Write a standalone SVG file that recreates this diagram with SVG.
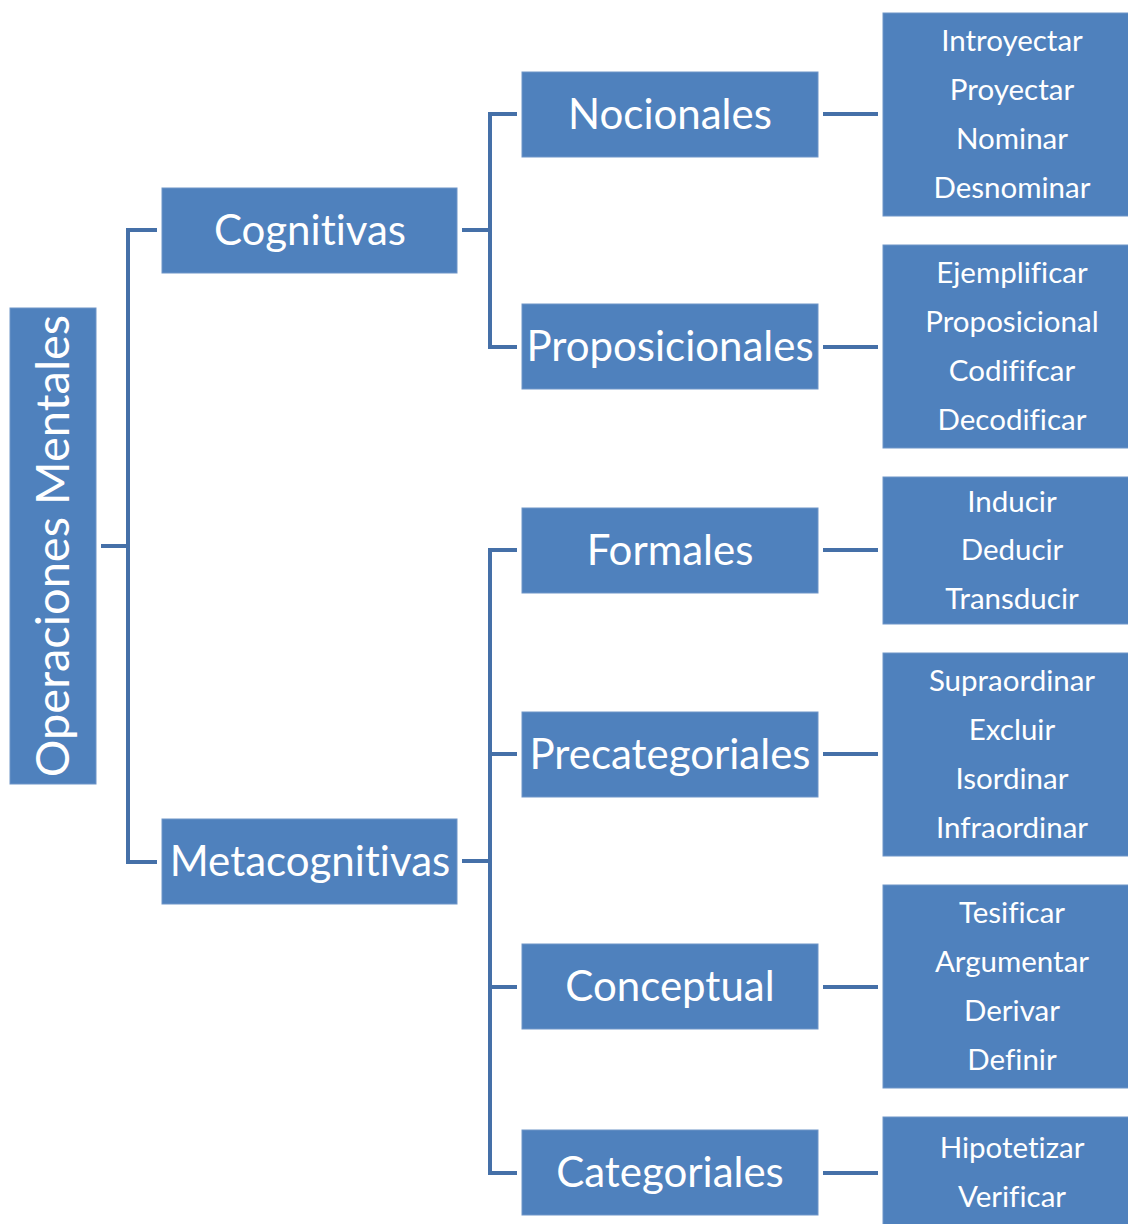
<svg xmlns="http://www.w3.org/2000/svg" width="1128" height="1224" viewBox="0 0 1128 1224">
<style>
.box{fill:#4F81BD;stroke:#6E95C8;stroke-width:1}
.t{font-family:Lato,"Open Sans","Liberation Sans",sans-serif;fill:#FFFFFF;text-anchor:middle;font-variant-ligatures:none}
.big{font-size:42px}
.root{font-size:47px}
.leaf{font-size:29.5px}
.ln{fill:none;stroke:#4570A8;stroke-width:4}
</style>
<rect width="1128" height="1224" fill="#FFFFFF"/>
<g id="connectors">
<path class="ln" d="M101 546H128M157 230H128V862H157"/>
<path class="ln" d="M462 230H490M517 114H490V347H517"/>
<path class="ln" d="M462 861H490M517 550H490V1173H517M490 754H517M490 987H517"/>
<path class="ln" d="M823 114H878M823 347H878M823 550H878M823 754H878M823 987H878M823 1173H878"/>
</g>
<g id="root"><rect class="box" x="10" y="308" width="86" height="476"/><text class="t root" transform="translate(53 546) rotate(-90)" dy="0.35em">Operaciones Mentales</text></g>
<g id="cognitivas"><rect class="box" x="162" y="188" width="295" height="85"/><text class="t big" x="310" y="230" dy="0.35em">Cognitivas</text></g>
<g id="metacognitivas"><rect class="box" x="162" y="819" width="295" height="85"/><text class="t big" x="310" y="861" dy="0.35em">Metacognitivas</text></g>
<g id="nocionales"><rect class="box" x="522" y="72" width="296" height="85"/><text class="t big" x="670" y="114" dy="0.35em">Nocionales</text></g>
<g id="proposicionales"><rect class="box" x="522" y="304" width="296" height="85"/><text class="t big" x="670" y="346" dy="0.35em">Proposicionales</text></g>
<g id="formales"><rect class="box" x="522" y="508" width="296" height="85"/><text class="t big" x="670" y="550" dy="0.35em">Formales</text></g>
<g id="precategoriales"><rect class="box" x="522" y="712" width="296" height="85"/><text class="t big" x="670" y="754" dy="0.35em">Precategoriales</text></g>
<g id="conceptual"><rect class="box" x="522" y="944" width="296" height="85"/><text class="t big" x="670" y="986" dy="0.35em">Conceptual</text></g>
<g id="categoriales"><rect class="box" x="522" y="1130" width="296" height="85"/><text class="t big" x="670" y="1172" dy="0.35em">Categoriales</text></g>
<g id="leaf-nocionales"><rect class="box" x="883" y="13" width="250" height="203"/>
<text class="t leaf"><tspan x="1012" y="41" dy="0.35em">Introyectar</tspan><tspan x="1012" y="90" dy="0.35em">Proyectar</tspan><tspan x="1012" y="139" dy="0.35em">Nominar</tspan><tspan x="1012" y="188" dy="0.35em">Desnominar</tspan></text></g>
<g id="leaf-proposicionales"><rect class="box" x="883" y="245" width="250" height="203"/>
<text class="t leaf"><tspan x="1012" y="273" dy="0.35em">Ejemplificar</tspan><tspan x="1012" y="322" dy="0.35em">Proposicional</tspan><tspan x="1012" y="371" dy="0.35em">Codififcar</tspan><tspan x="1012" y="420" dy="0.35em">Decodificar</tspan></text></g>
<g id="leaf-formales"><rect class="box" x="883" y="477" width="250" height="147"/>
<text class="t leaf"><tspan x="1012" y="502" dy="0.35em">Inducir</tspan><tspan x="1012" y="550" dy="0.35em">Deducir</tspan><tspan x="1012" y="599" dy="0.35em">Transducir</tspan></text></g>
<g id="leaf-precategoriales"><rect class="box" x="883" y="653" width="250" height="203"/>
<text class="t leaf"><tspan x="1012" y="681" dy="0.35em">Supraordinar</tspan><tspan x="1012" y="730" dy="0.35em">Excluir</tspan><tspan x="1012" y="779" dy="0.35em">Isordinar</tspan><tspan x="1012" y="828" dy="0.35em">Infraordinar</tspan></text></g>
<g id="leaf-conceptual"><rect class="box" x="883" y="885" width="250" height="203"/>
<text class="t leaf"><tspan x="1012" y="913" dy="0.35em">Tesificar</tspan><tspan x="1012" y="962" dy="0.35em">Argumentar</tspan><tspan x="1012" y="1011" dy="0.35em">Derivar</tspan><tspan x="1012" y="1060" dy="0.35em">Definir</tspan></text></g>
<g id="leaf-categoriales"><rect class="box" x="883" y="1117" width="250" height="120"/>
<text class="t leaf"><tspan x="1012" y="1148" dy="0.35em">Hipotetizar</tspan><tspan x="1012" y="1197" dy="0.35em">Verificar</tspan></text></g>
</svg>
